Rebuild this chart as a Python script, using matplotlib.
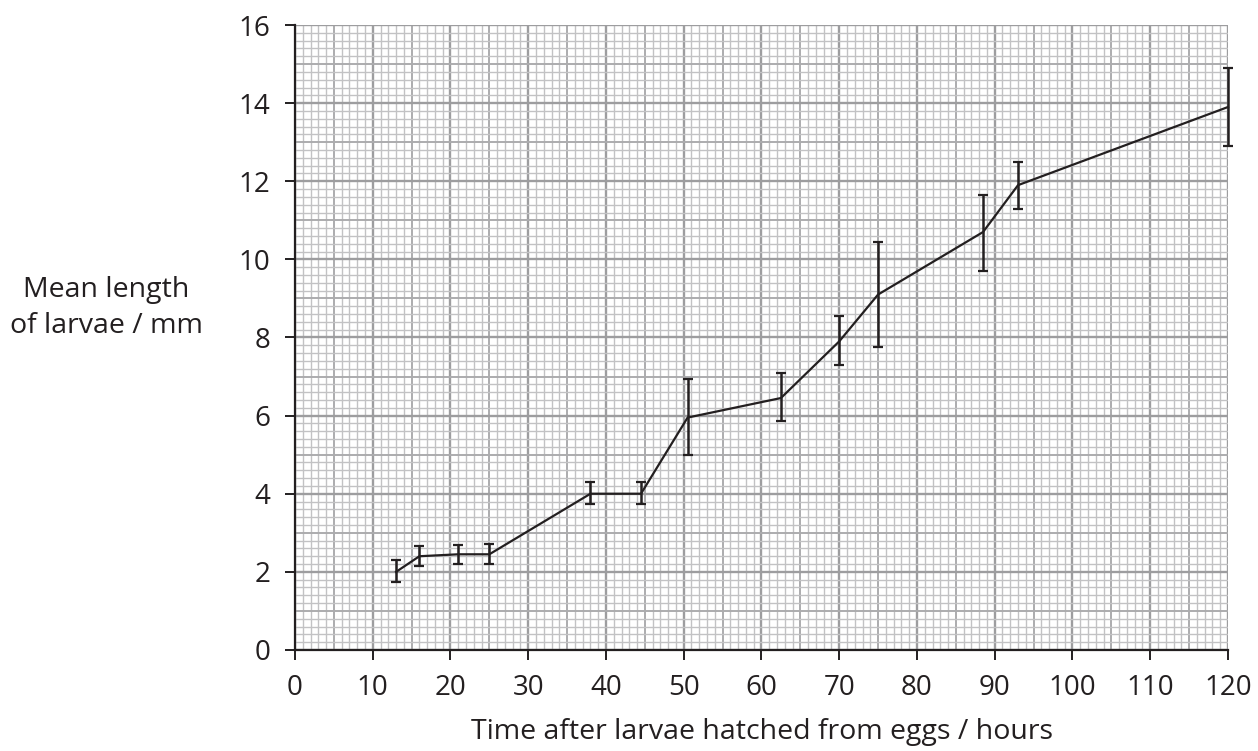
import matplotlib
matplotlib.use("Agg")
import matplotlib.pyplot as plt
import numpy as np

plt.rcParams['font.family'] = ['Open Sans', 'DejaVu Sans']

# mean larval length over time, with error bar ends
hours = [13, 16, 21, 25, 38, 44.5, 50.5, 62.5, 70, 75, 88.5, 93, 120]
mean_len = [2.0, 2.4, 2.45, 2.45, 4.0, 4.0, 5.95, 6.45, 7.9, 9.1, 10.7, 11.9, 13.9]
err_low = [1.75, 2.15, 2.2, 2.2, 3.75, 3.75, 4.98, 5.85, 7.3, 7.75, 9.7, 11.3, 12.9]
err_high = [2.3, 2.65, 2.7, 2.72, 4.3, 4.3, 6.93, 7.1, 8.55, 10.45, 11.65, 12.5, 14.9]

x_ticks = list(range(0, 121, 10))
y_ticks = list(range(0, 17, 2))

fig = plt.figure(figsize=(12.58, 7.51), dpi=100)
ax = fig.add_axes([0.2345, 0.1345, 0.7416, 0.8322])

# graph paper grid
for v in np.arange(0, 121, 1):
    if v % 10 == 0:
        c, lw = '#9d9d9f', 1.7
    elif v % 5 == 0:
        c, lw = '#acacae', 1.4
    else:
        c, lw = '#c2c2c4', 1.0
    ax.axvline(v, color=c, lw=lw, zorder=0)
for k in range(0, 81):
    v = k * 0.2
    if k % 10 == 0:
        c, lw = '#9d9d9f', 1.7
    elif k % 5 == 0:
        c, lw = '#acacae', 1.4
    else:
        c, lw = '#c2c2c4', 1.0
    ax.axhline(v, color=c, lw=lw, zorder=0)

m = np.array(mean_len)
yerr = [m - np.array(err_low), np.array(err_high) - m]
ax.errorbar(hours, mean_len, yerr=yerr, color='#231f20', lw=1.6,
            elinewidth=1.8, capsize=3.5, capthick=1.6, zorder=3, clip_on=False)

ax.set_xlim(0, 120)
ax.set_ylim(0, 16)
ax.set_xticks(x_ticks)
ax.set_yticks(y_ticks)
ax.tick_params(axis='both', direction='out', length=7, width=1.4,
               labelsize=20, color='#231f20', labelcolor='#231f20')
ax.tick_params(axis='x', pad=10)
ax.tick_params(axis='y', pad=11)
for s in ['top', 'right']:
    ax.spines[s].set_visible(False)
for s in ['left', 'bottom']:
    ax.spines[s].set_linewidth(1.6)
    ax.spines[s].set_color('#231f20')
    ax.spines[s].set_zorder(4)

fig.text(762 / 1258, 1 - 732 / 751, 'Time after larvae hatched from eggs / hours',
         ha='center', va='center', fontsize=20.5, color='#231f20')
fig.text(106 / 1258, 1 - 308 / 751, 'Mean length\nof larvae / mm',
         ha='center', va='center', fontsize=20.5, color='#231f20', linespacing=1.35)

fig.savefig('out.png', dpi=100)
